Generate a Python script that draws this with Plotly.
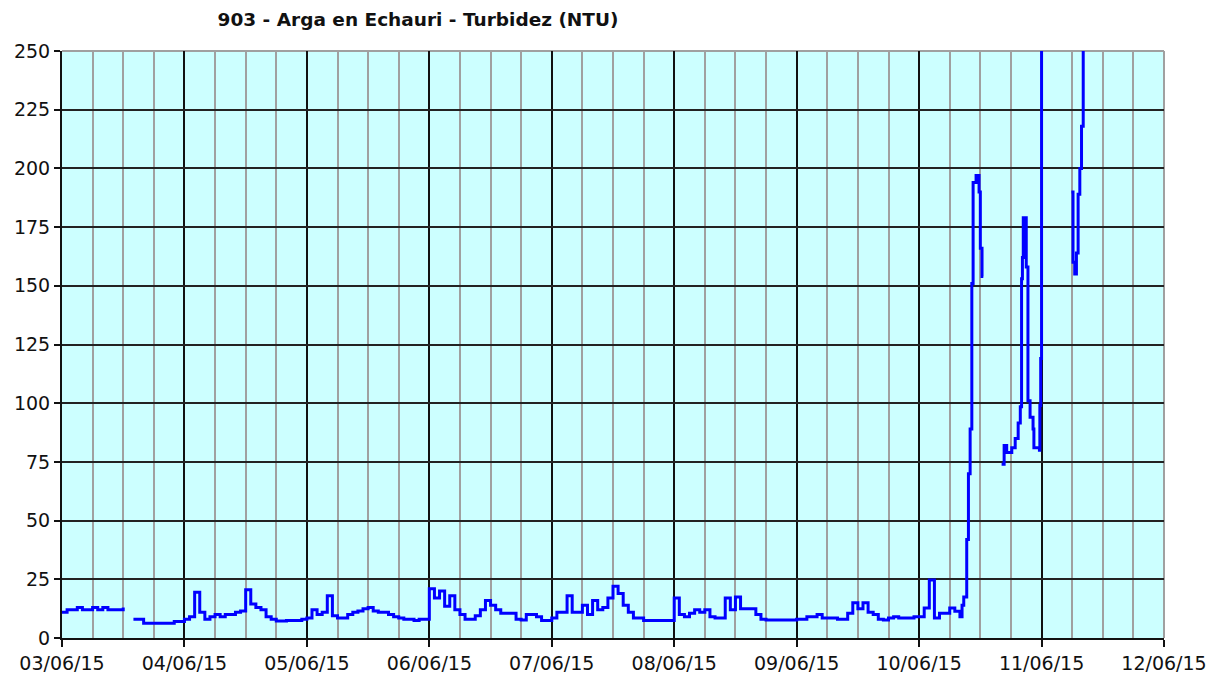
import plotly.graph_objects as go
import pandas as pd

# Hourly turbidity readings (NTU), one list per day, hours 00..23
day_0603 = [11, 12, 12, 13, 12, 12, 13, 12, 13, 12, 12, 12, 13, None,
            8, 8, 6.3, 6.3, 6.3, 6.3, 6.3, 6.3, 7, 7]
day_0604 = [8, 9, 19.5, 11, 8, 9, 10, 9, 10, 10, 11, 11.5,
            20.5, 14.5, 13, 12, 9, 8, 7.2, 7.2, 7.5, 7.5, 7.5, 8]
day_0605 = [8.5, 12, 10, 11, 18, 9.5, 8.5, 8.5, 10, 11, 11.5, 12.5,
            13, 11.5, 11, 11, 10, 9, 8.5, 8, 8, 7.5, 8, 8]
day_0606 = [21, 17, 20, 13.5, 18, 12, 10, 8, 8, 9.5, 12, 16,
            14, 12, 10.5, 10.5, 10.5, 8, 7.7, 10, 10, 9, 7.5, 7.5]
day_0607 = [8.5, 11, 11, 18, 11, 11, 14, 10, 16, 12, 13, 17,
            22, 19, 14, 11, 8.5, 8.5, 7.4, 7.4, 7.4, 7.4, 7.4, 7.4]
day_0608 = [17, 10, 9, 10.5, 12, 11, 12, 9, 8.5, 8.5, 17, 12,
            17.5, 12.5, 12.5, 12.5, 10, 8, 7.7, 7.7, 7.7, 7.7, 7.7, 7.7]
day_0609 = [8, 8, 9, 9, 10, 8.5, 8.5, 8.5, 8, 8, 10.5, 15,
            12.5, 15, 11, 10, 8, 7.7, 8.5, 9, 8.5, 8.5, 8.5, 9]
day_0610_early = [9, 12.8, 24.7, 8.5, 10.5, 10.5, 12.8, 11.4]

# Flood period, irregular timestamps
storm_times = [
    "2015-06-10 08:00", "2015-06-10 08:25", "2015-06-10 08:45", "2015-06-10 09:20",
    "2015-06-10 09:40", "2015-06-10 10:00", "2015-06-10 10:20", "2015-06-10 10:35",
    "2015-06-10 11:10", "2015-06-10 11:45", "2015-06-10 12:00", "2015-06-10 12:20",
    "2015-06-10 12:35", "2015-06-10 12:40",
    "2015-06-10 16:10", "2015-06-10 16:40", "2015-06-10 17:10", "2015-06-10 18:10",
    "2015-06-10 18:50", "2015-06-10 19:25", "2015-06-10 19:50", "2015-06-10 20:05",
    "2015-06-10 20:15", "2015-06-10 20:25", "2015-06-10 21:00", "2015-06-10 21:20",
    "2015-06-10 21:45", "2015-06-10 22:20", "2015-06-10 22:30", "2015-06-10 23:35",
    "2015-06-10 23:40", "2015-06-10 23:50", "2015-06-11 00:00", "2015-06-11 00:10",
    "2015-06-11 05:50", "2015-06-11 06:10", "2015-06-11 06:30", "2015-06-11 06:50",
    "2015-06-11 07:10", "2015-06-11 07:30", "2015-06-11 07:50", "2015-06-11 08:10",
]
storm_vals = [
    9, 14, 17.5, 42, 70, 89, 151, 194, 197, 190, 166, 154, 154, None,
    74, 82, 79, 81, 85, 91.6, 98.5, 153, 162, 179, 158, 101, 94, 89, 81, 80,
    99, 119, 300, None,
    190, 160, 155, 164, 189, 200, 218, 300,
]

title_text = "903 - Arga en Echauri - Turbidez (NTU)"
y_ticks = [0, 25, 50, 75, 100, 125, 150, 175, 200, 225, 250]

hourly_vals = (day_0603 + day_0604 + day_0605 + day_0606 + day_0607
               + day_0608 + day_0609 + day_0610_early)
hourly_times = pd.date_range("2015-06-03 00:00", periods=len(hourly_vals), freq="h")
times = list(hourly_times.strftime("%Y-%m-%d %H:%M")) + storm_times
vals = hourly_vals + storm_vals

FONT = "DejaVu Sans, Verdana, sans-serif"
FS = 19

fig = go.Figure()
fig.add_trace(go.Scatter(
    x=times, y=vals, mode="lines",
    line=dict(color="#0000FF", width=3, shape="hv"),
    connectgaps=False, showlegend=False,
))

fig.update_layout(
    width=1222, height=679,
    margin=dict(l=54, r=66, t=43, b=49),
    paper_bgcolor="#FFFFFF",
    plot_bgcolor="#CCFFFF",
    title=dict(text="<b>" + title_text + "</b>", x=410 / 1222, xanchor="center",
               y=1 - 12 / 679, yanchor="middle",
               font=dict(family=FONT, size=18.5, color="#111111")),
    font=dict(family=FONT, size=FS, color="#111111"),
    shapes=[
        dict(type="line", xref="paper", yref="paper", x0=0, x1=1, y0=1, y1=1,
             line=dict(color="#A0A0A0", width=2), layer="between"),
        dict(type="line", xref="paper", yref="paper", x0=1, x1=1, y0=0, y1=1,
             line=dict(color="#A0A0A0", width=2), layer="between"),
    ],
)

fig.update_xaxes(
    type="date", automargin=False,
    range=["2015-06-03 00:00", "2015-06-12 00:00"],
    dtick=86400000, tick0="2015-06-03",
    tickformat="%d/%m/%y",
    showgrid=True, gridcolor="#111111", gridwidth=1.5,
    minor=dict(dtick=6 * 3600 * 1000, showgrid=True, gridcolor="#A0A0A0", gridwidth=2),
    ticks="outside", ticklen=7, tickwidth=1.5, tickcolor="#111111",
    showline=True, linecolor="#111111", linewidth=2,
    zeroline=False,
    tickfont=dict(family=FONT, size=FS, color="#111111"),
)
fig.update_yaxes(
    automargin=False,
    range=[0, 250], tickvals=y_ticks,
    showgrid=True, gridcolor="#222222", gridwidth=1.5,
    ticks="outside", ticklen=6, tickwidth=1.5, tickcolor="#111111",
    showline=True, linecolor="#111111", linewidth=2,
    zeroline=False,
    tickfont=dict(family=FONT, size=FS, color="#111111"),
)

fig.write_html("out.html")
